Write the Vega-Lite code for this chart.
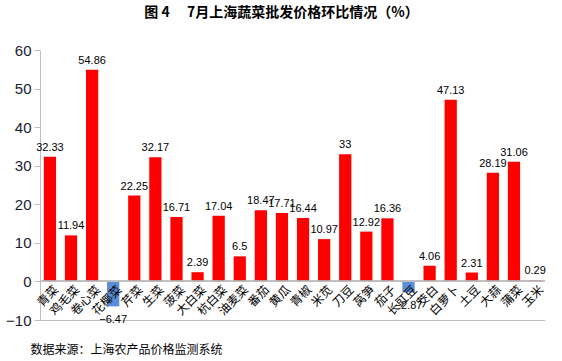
{
  "$schema": "https://vega.github.io/schema/vega-lite/v6.json",
  "autosize": "none",
  "width": 505,
  "height": 270,
  "padding": {"left": 40, "top": 50, "right": 17, "bottom": 41},
  "background": "white",
  "config": {
    "view": {"stroke": null},
    "font": "Liberation Sans",
    "axisY": {
      "labelOverlap": false,
      "grid": false,
      "title": null,
      "domainColor": "#bfbfbf",
      "tickColor": "#bfbfbf",
      "tickSize": 6,
      "labelFontSize": 15,
      "labelColor": "#1a1a2e",
      "labelPadding": 3,
      "labelFlush": false
    }
  },
  "title": {
    "text": "图 4　 7月上海蔬菜批发价格环比情况（%）",
    "font": "Noto Sans CJK SC",
    "fontSize": 14,
    "fontWeight": "bold",
    "color": "#000000",
    "anchor": "middle",
    "dx": -11,
    "offset": 23
  },
  "data": {
    "values": [
      {"veg": "青菜", "v": 32.33},
      {"veg": "鸡毛菜", "v": 11.94},
      {"veg": "卷心菜", "v": 54.86},
      {"veg": "花椰菜", "v": -6.47},
      {"veg": "芹菜", "v": 22.25},
      {"veg": "生菜", "v": 32.17},
      {"veg": "菠菜", "v": 16.71},
      {"veg": "大白菜", "v": 2.39},
      {"veg": "杭白菜", "v": 17.04},
      {"veg": "油麦菜", "v": 6.5},
      {"veg": "番茄", "v": 18.47},
      {"veg": "黄瓜", "v": 17.71},
      {"veg": "青椒", "v": 16.44},
      {"veg": "米苋", "v": 10.97},
      {"veg": "刀豆", "v": 33},
      {"veg": "莴笋", "v": 12.92},
      {"veg": "茄子", "v": 16.36},
      {"veg": "长豇豆", "v": -2.87},
      {"veg": "茭白", "v": 4.06},
      {"veg": "白萝卜", "v": 47.13},
      {"veg": "土豆", "v": 2.31},
      {"veg": "大蒜", "v": 28.19},
      {"veg": "蒲菜", "v": 31.06},
      {"veg": "玉米", "v": 0.29}
    ]
  },
  "encoding": {
    "x": {
      "field": "veg",
      "type": "nominal",
      "sort": null,
      "scale": {"paddingInner": 0.42, "paddingOuter": 0.18},
      "axis": {
        "labels": false,
        "ticks": false,
        "domainColor": "#bfbfbf",
        "title": "数据来源：上海农产品价格监测系统",
        "titleFont": "Noto Sans CJK SC",
        "titleFontSize": 12,
        "titleFontWeight": "normal",
        "titleColor": "#000000",
        "titleAnchor": "start",
        "titleAlign": "left",
        "titleBaseline": "middle",
        "titleX": -10,
        "titleY": 29
      }
    },
    "y": {
      "field": "v",
      "type": "quantitative",
      "scale": {"domain": [-10, 60], "nice": false},
      "axis": {"values": [-10, 0, 10, 20, 30, 40, 50, 60]}
    }
  },
  "layer": [
    {
      "mark": {"type": "bar"},
      "encoding": {
        "color": {
          "condition": {"test": "datum.v < 0", "value": "#5B8ED6"},
          "value": "#FF0000"
        }
      }
    },
    {
      "mark": {"type": "rule", "color": "#bfbfbf", "strokeWidth": 1},
      "encoding": {"y": {"datum": 0, "type": "quantitative", "axis": {"values": [-10, 0, 10, 20, 30, 40, 50, 60]}}, "x": null}
    },
    {
      "transform": [{"filter": "datum.v >= 0"}],
      "mark": {"type": "text", "baseline": "bottom", "dy": -4, "fontSize": 11, "color": "#000000"},
      "encoding": {
        "text": {"field": "v", "type": "quantitative"}
      }
    },
    {
      "transform": [{"filter": "datum.v < 0"}],
      "mark": {"type": "text", "baseline": "top", "dy": 8, "fontSize": 11, "color": "#000000"},
      "encoding": {
        "text": {"field": "v", "type": "quantitative"}
      }
    },
    {
      "mark": {"type": "text", "angle": 315, "align": "right", "baseline": "middle", "dy": 9, "dx": 0, "fontSize": 12, "font": "Noto Sans CJK SC", "color": "#000000"},
      "encoding": {
        "y": {"datum": 0, "type": "quantitative", "axis": {"values": [-10, 0, 10, 20, 30, 40, 50, 60]}},
        "text": {"field": "veg", "type": "nominal"}
      }
    }
  ]
}
